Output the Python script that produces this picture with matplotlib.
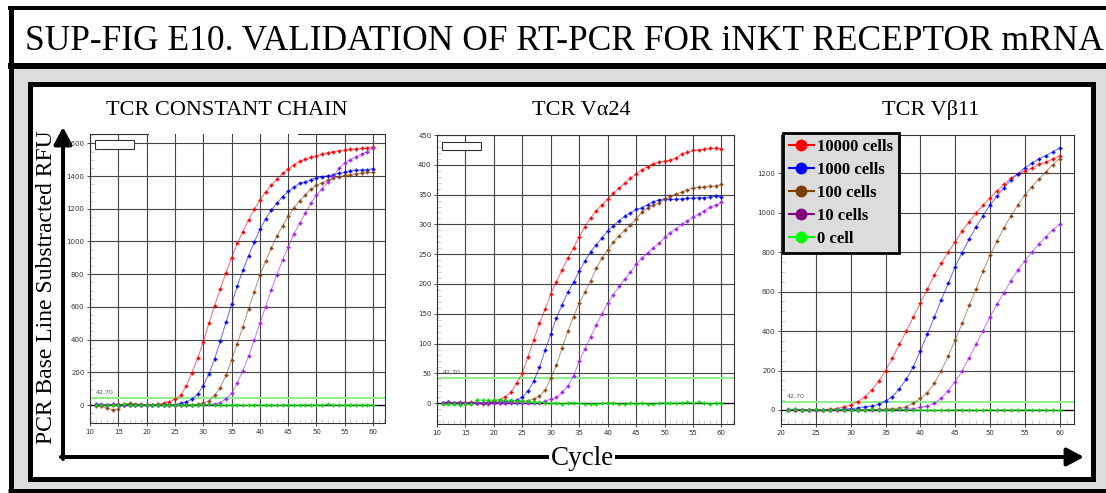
"""
SUP-FIG E10: validation of RT-PCR for iNKT receptor mRNA
"""

import matplotlib.pyplot as plt
from matplotlib.patches import Rectangle
from matplotlib.lines import Line2D
from matplotlib.ticker import MultipleLocator

W, H = 1106, 493
SERIF = "Liberation Serif"
SMALL = ["Liberation Sans Narrow", "DejaVu Sans"]

# ---------------- data ----------------
labels = ["10000 cells", "1000 cells", "100 cells", "10 cells", "0 cell"]
threshold = 42.70

cycles_a = list(range(11, 61))
cycles_b = list(range(21, 61))

# TCR constant chain
const_10000 = [0, 3, 2, 0, 4, 2, 0, 3, 2, 0, 2, 5, 10,
               20, 35, 59, 116, 198, 285, 387, 499, 607, 709, 807, 901, 988, 1060,
               1131, 1196, 1253, 1300, 1343, 1380, 1416, 1443, 1469, 1490, 1502,
               1514, 1524, 1535, 1543, 1549, 1555, 1559, 1563, 1567, 1569, 1571, 1579]
const_1000 = [5, 3, 0, 4, 2, 0, 3, 0, -3, 0, 2, 0, -2, 0, 3, 10,
              20, 35, 65, 118, 190, 281, 389, 505, 615, 728, 823, 913, 995, 1074,
              1137, 1192, 1233, 1274, 1306, 1331, 1355, 1363, 1376, 1390, 1396,
              1402, 1408, 1416, 1424, 1433, 1437, 1437, 1439, 1445]
const_100 = [-5, -8, -20, -28, -25, 8, 10, 8, 5, 2, 0, 3, 0, 2, 0, -3, 0, 2, 5,
             14, 24, 59, 106, 181, 273, 375, 479, 589, 691, 793, 878, 958, 1033,
             1094, 1156, 1204, 1249, 1284, 1319, 1343, 1359, 1374, 1386, 1396,
             1404, 1408, 1414, 1418, 1422, 1422]
const_10 = [3, 5, 2, 4, 0, 2, 3, 0, 2, 0, 0, 2, 0, 0, 2, 0, 0, 3, 0, 2, 5, 8,
            14, 39, 71, 135, 210, 298, 397, 499, 601, 705, 797, 885, 966, 1045,
            1111, 1172, 1233, 1282, 1323, 1361, 1402, 1447, 1482, 1500, 1518,
            1535, 1549, 1571]
const_0 = [0, 2, -2, 3, 0, 5, 2, 0, 3, -2, 0, 2, 3, 0, -2, 2, 0, 3, 2, 0,
           5, 2, 0, -2, 0, 3, 0, -3, 2, 0, 0, 3, -2, 0, 2, 0, -2, 3, 0, 2,
           0, 4, 0, 2, -2, 3, 0, 2, 0, 3]

# TCR Va24
va24_10000 = [0, 2, 0, 1, 0, 2, 0, 1, 2, 4, 6,
              11, 18, 34, 50, 78, 106, 134, 158, 183, 204, 224, 243, 261, 279,
              296, 311, 323, 333, 342, 352, 361, 369, 377, 385, 392, 397, 402,
              404, 406, 408, 411, 418, 421, 424, 425, 426, 428, 428, 427]
va24_1000 = [0, 2, 0, 1, 0, 0, 1, 0, 1, 2, 2, 3, 4, 5,
             10, 20, 37, 60, 89, 116, 143, 165, 186, 203, 222, 238, 254, 266,
             277, 289, 298, 306, 314, 319, 325, 328, 333, 338, 341, 343, 342,
             342, 343, 344, 344, 345, 345, 346, 347, 346]
va24_100 = [0, 1, 0, 2, 0, 1, 0, -2, -1, 0, 0, 1, 2, 2, 3, 4,
            7, 12, 22, 42, 64, 93, 121, 145, 168, 186, 205, 226, 244, 257,
            270, 281, 290, 299, 309, 320, 327, 332, 336, 342, 347, 351, 354,
            358, 361, 362, 363, 364, 364, 367]
va24_10 = [0, 1, 0, 0, 1, 0, 0, 1, 0, 1, 0, 1, 0, 1, 0, 1, 0, 1, 3,
           7, 10, 18, 29, 46, 70, 91, 111, 131, 150, 168, 182, 196, 208, 220,
           233, 243, 252, 260, 268, 278, 286, 293, 300, 306, 312, 317, 323,
           329, 332, 337]
va24_0 = [-2, -2, -1, -3, -2, -2,
          6, 5, 5, 5, 6, 5, 5, 4, 4, 3, 2, 2, 1,
          0, 0, -1, 0, 1, 0, -2, -1, -1, 0, 0, 0, -1, -2, 0, -1, 0, -1, -2,
          0, 1, 0, 0, 1, 2, 1, 2, 0, -1, 0, 0]

# TCR Vb11
vb11_10000 = [0, 0, 2, 0, 0, 2, 4,
              7, 17, 24, 42, 64, 101, 145, 199, 264, 333, 402, 472, 543, 612,
              684, 744, 801, 853, 908, 953, 999, 1038, 1075, 1110, 1144, 1175,
              1197, 1212, 1225, 1246, 1256, 1273, 1288]
vb11_1000 = [2, 3, 0, 0, 2, 0, 2, 3, 5,
             7, 10, 17, 20, 29, 46, 68, 108, 157, 220, 301, 384, 470, 558,
             642, 727, 798, 865, 929, 985, 1039, 1085, 1127, 1166, 1197, 1227,
             1251, 1273, 1290, 1308, 1328]
vb11_100 = [0, 2, 0, 0, 0, 0, 2, 0, 0, 2, 0, 2, 3, 3, 5,
            7, 10, 17, 34, 59, 88, 135, 199, 274, 355, 439, 530, 615, 705,
            786, 855, 924, 984, 1039, 1090, 1132, 1171, 1205, 1244, 1274]
vb11_10 = [3, 2, 0, 0, 0, 0, 0, 2, 0, 0, 0, 0, 2, 0, 0, 2, 3, 5,
           7, 14, 20, 34, 59, 98, 144, 199, 265, 333, 402, 473, 536, 595,
           656, 710, 757, 799, 842, 879, 913, 941]
vb11_0 = [2, 3, 0, 2, 3, 2, 0, 3, 2, 0, 2, 0, 3, 2, 0, 2, 3, 2, 0, -2,
          0, -2, -2, 0, 2, 2, 0, -2, 0, 2, 0, 2, 0, 0, 2, 0, 2, 0, -2, -2]

colors = ["#ff0000", "#0000ff", "#8b4513", "#a020f0", "#00e000"]
legend_colors = ["#ff0000", "#0000ff", "#7b3f00", "#800080", "#00ff00"]

# ---------------- figure frame ----------------
fig = plt.figure(figsize=(W / 100, H / 100), dpi=100)
fig.patch.set_facecolor("white")
bg = fig.add_axes([0, 0, 1, 1])
bg.set_xlim(0, W)
bg.set_ylim(H, 0)
bg.axis("off")

PX = 0.72  # points per pixel

# grey panel below the title box
bg.add_patch(Rectangle((12, 68), W - 12, 421, facecolor="#dcdcdc", edgecolor="none"))
# title box edges
bg.plot([8, W], [8, 8], color="black", lw=4 * PX, solid_capstyle="butt")
bg.plot([8, W], [66, 66], color="black", lw=6 * PX, solid_capstyle="butt")
bg.plot([10.5, 10.5], [6, 493], color="black", lw=5 * PX, solid_capstyle="butt")
bg.plot([8, W], [490.5, 490.5], color="black", lw=5 * PX, solid_capstyle="butt")
# inner white panel
bg.add_patch(Rectangle((30, 83.5), 1062.5, 395, facecolor="white",
                       edgecolor="black", lw=5 * PX))

bg.text(564, 50, "SUP-FIG E10. VALIDATION OF RT-PCR FOR iNKT RECEPTOR mRNA",
        ha="center", va="baseline", fontsize=25.5, family=SERIF)

# axis arrows
bg.annotate("", xy=(63, 127), xytext=(63, 459),
            arrowprops=dict(arrowstyle="-|>,head_length=0.85,head_width=0.45",
                            lw=4 * PX, color="black", mutation_scale=12,
                            shrinkA=0, shrinkB=0))
bg.annotate("", xy=(1084, 457), xytext=(61, 457),
            arrowprops=dict(arrowstyle="-|>,head_length=0.85,head_width=0.45",
                            lw=4 * PX, color="black", mutation_scale=12,
                            shrinkA=0, shrinkB=0))
bg.text(47, 287, "PCR Base Line Substracted RFU", rotation=90, ha="center",
        va="center", fontsize=17, family=SERIF)
bg.text(582, 465, "Cycle", ha="center", va="baseline", fontsize=19.5, family=SERIF,
        bbox=dict(facecolor="white", edgecolor="none", pad=1))

bg.text(227, 115, "TCR CONSTANT CHAIN", ha="center", va="baseline", fontsize=16, family=SERIF)
bg.text(581, 115, "TCR V\u03b124", ha="center", va="baseline", fontsize=16, family=SERIF)
bg.text(931, 115, "TCR V\u03b211", ha="center", va="baseline", fontsize=16, family=SERIF)


def px_axes(left, top, right, bottom):
    return fig.add_axes([left / W, 1 - bottom / H, (right - left) / W, (bottom - top) / H])


def style_panel(ax, xlim, ylim, xstep, ystep, yminor, xticks_from):
    ax.set_xlim(*xlim)
    ax.set_ylim(*ylim)
    ax.set_facecolor("white")
    ax.xaxis.set_major_locator(MultipleLocator(xstep))
    ax.yaxis.set_major_locator(MultipleLocator(ystep))
    ax.xaxis.set_minor_locator(MultipleLocator(1))
    ax.yaxis.set_minor_locator(MultipleLocator(yminor))
    ax.set_xticks(range(xticks_from, 61, xstep))
    ax.grid(True, which="major", color="#444444", lw=0.8)
    ax.set_axisbelow(True)
    ax.tick_params(which="major", length=2.5, width=0.6, color="#333333",
                   labelsize=5, labelcolor="#333333", pad=1.5)
    ax.tick_params(which="minor", direction="in", length=3, width=0.5, color="#bbbbbb")
    for lab in ax.get_xticklabels() + ax.get_yticklabels():
        lab.set_family(SMALL)
    for sp in ax.spines.values():
        sp.set_color("#333333")
        sp.set_linewidth(0.8)
    ax.axhline(0, color="black", lw=0.9, zorder=1)
    ax.axhline(threshold, color="#90ee90", lw=1.5, zorder=1.5)
    ax.annotate("42,70", xy=(xlim[0], threshold), xytext=(4, 2),
                textcoords="offset points", fontsize=4.5, color="#555555",
                family=SMALL, va="bottom")


def draw_series(ax, x, series):
    for ys, c in zip(series, colors):
        ax.plot(x, ys, color=c, lw=0.7, alpha=0.6, zorder=2)
        ax.plot(x, ys, ls="none", marker="P", ms=2.4, color=c, mec=c, mew=0.3, zorder=3)


# ---------------- panel 1 ----------------
ax1 = px_axes(90, 134, 385, 423)
style_panel(ax1, (10, 62.1), (-110, 1657), 5, 200, 50, 10)
draw_series(ax1, cycles_a, [const_10000, const_1000, const_100, const_10, const_0])
ax1.spines["top"].set_visible(False)
gap_a, gap_b = (148 - 90) / 295, (298 - 90) / 295
for seg in [(0, gap_a), (gap_b, 1)]:
    ax1.plot(seg, [1, 1], transform=ax1.transAxes, clip_on=False,
             color="#333333", lw=0.8)

# ---------------- panel 2 ----------------
ax2 = px_axes(437, 135, 734, 424)
style_panel(ax2, (10, 62.2), (-35, 450), 5, 50, 10, 10)
draw_series(ax2, cycles_a, [va24_10000, va24_1000, va24_100, va24_10, va24_0])

# ---------------- panel 3 ----------------
ax3 = px_axes(781, 135, 1074, 424)
style_panel(ax3, (20, 62.05), (-71, 1394), 5, 200, 50, 20)
ax3.set_yticks(range(0, 1201, 200))
draw_series(ax3, cycles_b, [vb11_10000, vb11_1000, vb11_100, vb11_10, vb11_0])

# small empty key boxes on the first two panels
fig.add_artist(Rectangle((95 / W, 1 - 149 / H), 39 / W, 9 / H, transform=fig.transFigure,
                         facecolor="white", edgecolor="#333333", lw=0.8, zorder=10))
fig.add_artist(Rectangle((442 / W, 1 - 150 / H), 39 / W, 8 / H, transform=fig.transFigure,
                         facecolor="white", edgecolor="#333333", lw=0.8, zorder=10))

handles = [Line2D([], [], color=c, marker="o", ms=7.5, lw=1.5) for c in legend_colors]
leg = ax3.legend(handles, labels, loc="upper left",
                 bbox_to_anchor=(783 / W, 1 - 133 / H), bbox_transform=fig.transFigure,
                 prop=dict(family=SERIF, weight="bold", size=12),
                 fancybox=False, edgecolor="black", facecolor="#dcdcdc", framealpha=1,
                 borderpad=0.35, labelspacing=0.42, handlelength=1.5,
                 handletextpad=0.2, borderaxespad=0)
leg.get_frame().set_linewidth(2)
leg.set_zorder(20)

plt.savefig("out.png", dpi=100, facecolor="white")
plt.close()
